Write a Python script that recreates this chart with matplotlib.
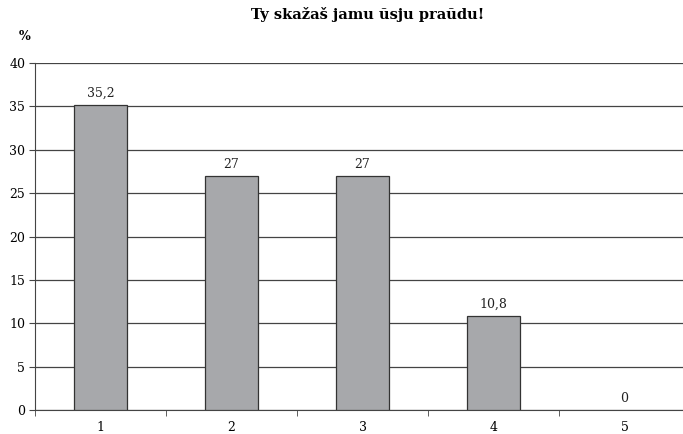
import matplotlib
matplotlib.use("Agg")
import matplotlib.pyplot as plt

categories = ["1", "2", "3", "4", "5"]
values = [35.2, 27, 27, 10.8, 0]
labels = ["35,2", "27", "27", "10,8", "0"]
yticks = [0, 5, 10, 15, 20, 25, 30, 35, 40]
title = "Ty skažaš jamu ŭsju praŭdu!"

plt.rcParams['font.family'] = ['DejaVu Serif']

fig = plt.figure(figsize=(6.83, 4.34), dpi=100)
ax = fig.add_axes([35/683, 24/434, 655/683, 347/434])

x = list(range(len(categories)))
lw = [0.9 if v > 0 else 0 for v in values]
ax.bar(x, values, width=0.4, color="#a7a8ab", edgecolor="#333333", linewidth=lw, zorder=3)
for xi, v, lab in zip(x, values, labels):
    ax.text(xi, v + 0.6, lab, ha="center", va="bottom", fontsize=9, color="#222222")

ax.set_xlim(-0.5, len(categories) - 0.5)
ax.set_ylim(0, 40)
ax.set_yticks(yticks)
ax.set_yticklabels([str(t) for t in yticks], fontsize=9)
ax.yaxis.grid(True, color="#444444", linewidth=0.9, zorder=0)
ax.set_axisbelow(True)

ax.set_xticks(x)
ax.set_xticklabels(categories, fontsize=9)
ax.tick_params(axis="x", length=0, pad=8)
ax.set_xticks([i + 0.5 for i in range(len(categories) - 1)] + [-0.5], minor=True)
ax.tick_params(axis="x", which="minor", length=4, color="#444444", direction="out")
ax.tick_params(axis="y", length=4, color="#444444", direction="out", pad=3)

for s in ["top", "right"]:
    ax.spines[s].set_visible(False)
ax.spines["left"].set_color("#444444")
ax.spines["bottom"].set_color("#444444")

fig.text(368/683, 1 - 15/434, title, ha="center", va="center", fontsize=10.5, fontweight="bold")
fig.text(25/683, 1 - 36/434, "%", ha="center", va="center", fontsize=9, fontweight="bold")

fig.savefig("out.png", dpi=100)
